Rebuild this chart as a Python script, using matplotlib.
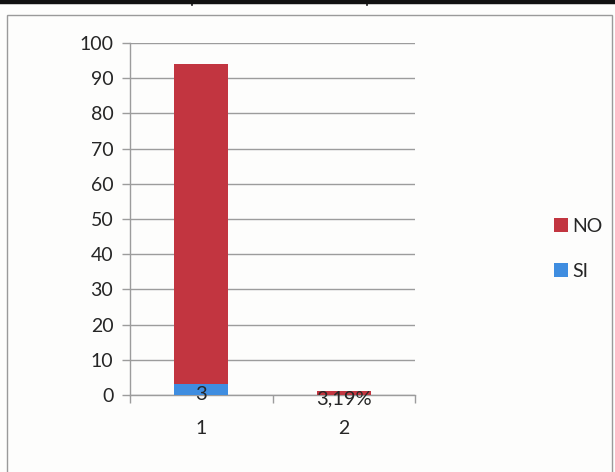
import matplotlib
matplotlib.use("Agg")
import matplotlib.pyplot as plt
from matplotlib.patches import Rectangle
from matplotlib.lines import Line2D
import numpy as np

categories = ["1", "2"]
si_values = [3, 0.0319]
no_values = [91, 0.9681]
si_labels = ["3", "3,19%"]
y_ticks = [0, 10, 20, 30, 40, 50, 60, 70, 80, 90, 100]

RED = "#c23540"
BLUE = "#3f8de0"
GRID = "#9c9c9c"
TEXT = "#262626"

plt.rcParams["font.family"] = ["Lato", "DejaVu Sans"]

fig = plt.figure(figsize=(6.15, 4.72), dpi=100)
fig.patch.set_facecolor("#fdfdfc")

# Table rule above the chart and the chart frame
fig.add_artist(Line2D([0, 1], [0.996, 0.996], transform=fig.transFigure,
                      color="#111111", lw=3.2))
for xv in (192 / 615, 367 / 615):
    fig.add_artist(Line2D([xv, xv], [0.99, 1.0], transform=fig.transFigure,
                          color="#111111", lw=1.2))
fig.add_artist(Rectangle((7 / 615, -0.01), 605 / 615, 462 / 472,
                         transform=fig.transFigure, fill=False,
                         edgecolor="#9a9a9a", lw=1.0))

ax = fig.add_axes([130 / 615, 77 / 472, 285 / 615, 352 / 472])
ax.set_facecolor("none")

x = np.arange(len(categories))
width = 0.38
ax.bar(x, si_values, width, color=BLUE, label="SI", zorder=3)
ax.bar(x, no_values, width, bottom=si_values, color=RED, label="NO", zorder=3)

# value labels centred on the SI segments
label_offsets = [-3.5, -2.5]
for xi, v, lab, dy in zip(x, si_values, si_labels, label_offsets):
    ax.annotate(lab, (xi, v / 2), xytext=(0, dy), textcoords="offset points",
                ha="center", va="center", fontsize=14.5, color=TEXT, zorder=4)

ax.set_xlim(-0.5, len(categories) - 0.5)
ax.set_ylim(0, 100)
ax.set_yticks(y_ticks)
ax.set_yticklabels([str(t) for t in y_ticks], fontsize=14, color=TEXT)
ax.yaxis.grid(True, color=GRID, lw=1.0, zorder=0)
ax.tick_params(axis="y", length=6, width=1.0, color=GRID, pad=6)

ax.set_xticks(x)
ax.set_xticklabels(categories, fontsize=14, color=TEXT)
ax.set_xticks(np.arange(-0.5, len(categories)), minor=True)
ax.tick_params(axis="x", which="major", length=0, pad=18)
ax.tick_params(axis="x", which="minor", length=6, width=1.0, color=GRID)

for side in ("top", "right"):
    ax.spines[side].set_visible(False)
for side in ("left", "bottom"):
    ax.spines[side].set_color(GRID)
    ax.spines[side].set_linewidth(1.0)

handles, labels = ax.get_legend_handles_labels()
fig.legend(handles[::-1], labels[::-1], loc="center left",
           bbox_to_anchor=(536 / 615, 1 - 249 / 472), frameon=False,
           fontsize=14, handlelength=0.75, handleheight=0.75,
           handletextpad=0.2, labelspacing=1.45, labelcolor=TEXT)

fig.savefig("out.png", dpi=100, facecolor=fig.get_facecolor())
